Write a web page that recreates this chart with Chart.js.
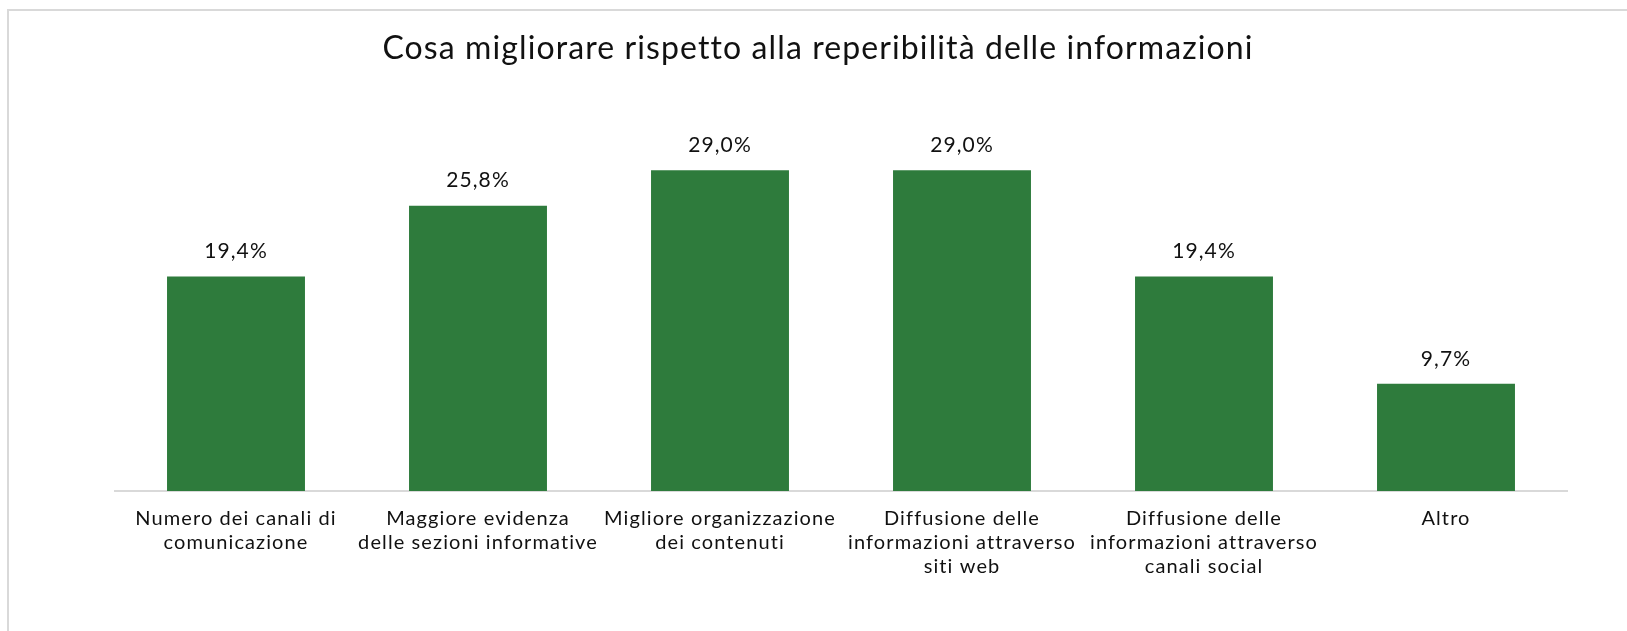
<!DOCTYPE html>
<html>
<head>
<meta charset="utf-8">
<script src="https://cdn.jsdelivr.net/npm/chart.js@4/dist/chart.umd.min.js"></script>
<style>
  html, body { margin: 0; padding: 0; background: #fff; overflow: hidden; }
  #frame {
    position: absolute; left: 7px; top: 9px; width: 1700px; height: 700px;
    border-left: 2px solid #d9d9d9; border-top: 2px solid #d9d9d9;
  }
  #wrap { position: absolute; left: 0; top: 0; width: 1627px; height: 631px; }
</style>
</head>
<body>
<div id="frame"></div>
<div id="wrap"><canvas id="barChart"></canvas></div>
<script>
const chartTitle = 'Cosa migliorare rispetto alla reperibilità delle informazioni';
const categories = [
    ['Numero dei canali di', 'comunicazione'],
    ['Maggiore evidenza', 'delle sezioni informative'],
    ['Migliore organizzazione', 'dei contenuti'],
    ['Diffusione delle', 'informazioni attraverso', 'siti web'],
    ['Diffusione delle', 'informazioni attraverso', 'canali social'],
    ['Altro']
];
const percentages = [19.4, 25.8, 29.0, 29.0, 19.4, 9.7];

const FONT = 'Lato, "Open Sans", sans-serif';

// a bit of tracking so Lato spreads out like the original typeface
const spacing = {
    id: 'spacing',
    beforeDraw(chart) {
        chart.ctx.letterSpacing = '1.1px';
    }
};

// title centred on the whole frame, not just the plot area
const frameTitle = {
    id: 'frameTitle',
    afterDraw(chart) {
        const ctx = chart.ctx;
        ctx.save();
        ctx.font = '32px ' + FONT;
        ctx.fillStyle = '#111';
        ctx.textAlign = 'center';
        ctx.textBaseline = 'middle';
        ctx.fillText(chartTitle, 818, 49);
        ctx.restore();
    }
};

// writes the percentage above each bar, italian style (comma decimal)
const valueLabels = {
    id: 'valueLabels',
    afterDatasetsDraw(chart) {
        const ctx = chart.ctx;
        const meta = chart.getDatasetMeta(0);
        ctx.save();
        ctx.font = '21px ' + FONT;
        ctx.fillStyle = '#111';
        ctx.textAlign = 'center';
        ctx.textBaseline = 'middle';
        meta.data.forEach((bar, i) => {
            const txt = percentages[i].toFixed(1).replace('.', ',') + '%';
            ctx.fillText(txt, bar.x, bar.y - 25);
        });
        ctx.restore();
    }
};

const ctx = document.getElementById('barChart').getContext('2d');
new Chart(ctx, {
    type: 'bar',
    data: {
        labels: categories,
        datasets: [{
            data: percentages,
            backgroundColor: '#2e7b3c',
            borderWidth: 0,
            categoryPercentage: 1,
            barPercentage: 0.57
        }]
    },
    options: {
        responsive: true,
        maintainAspectRatio: false,
        animation: false,
        layout: { padding: { left: 115, right: 60, top: 104, bottom: 0 } },
        plugins: {
            legend: { display: false },
            tooltip: { enabled: false },
            title: { display: false }
        },
        scales: {
            x: {
                grid: { display: false },
                border: { display: true, color: '#d9d9d9', width: 2 },
                ticks: {
                    color: '#111',
                    padding: 8,
                    maxRotation: 0,
                    autoSkip: false,
                    font: { family: FONT, size: 20, lineHeight: 1.2 }
                },
                afterFit(scale) { scale.height = 140; }
            },
            y: {
                display: false,
                min: 0,
                max: 35
            }
        }
    },
    plugins: [spacing, valueLabels, frameTitle]
});
</script>
</body>
</html>
